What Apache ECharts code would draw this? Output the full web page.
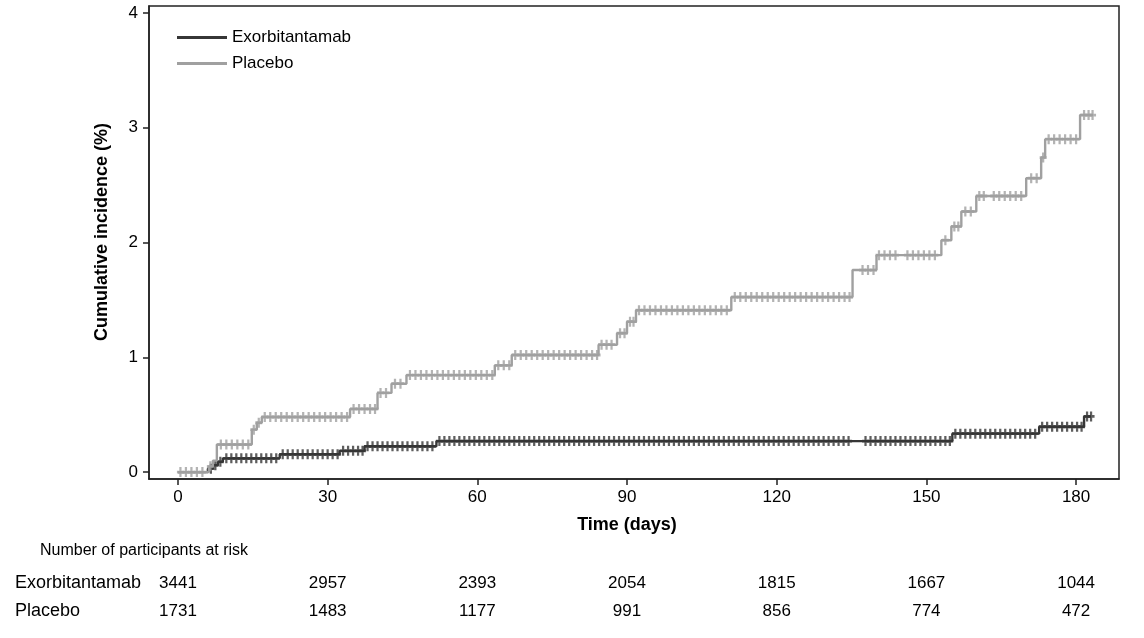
<!DOCTYPE html>
<html>
<head>
<meta charset="utf-8">
<script src="https://cdn.jsdelivr.net/npm/echarts@6/dist/echarts.min.js"></script>
<style>
html,body{margin:0;padding:0;background:#fff;}
#chart{width:1144px;height:638px;}
</style>
</head>
<body>
<div id="chart"></div>
<script>
// ---- Data ----
const xTicks = [0, 30, 60, 90, 120, 150, 180];
const yTicks = [0, 1, 2, 3, 4];

const exoName = 'Exorbitantamab';
const exoEventTimes  = [0, 6.0, 7.0, 8.0, 9.0, 20.4, 32.4, 37.4, 51.8, 155.2, 172.6, 181.6];
const exoEventValues = [0, 0.03, 0.06, 0.09, 0.12, 0.155, 0.185, 0.225, 0.27, 0.335, 0.395, 0.485];
const exoEndTime = 183.0;
const exoCensor = [6.6, 7.5, 8.5,
  9.7, 10.7, 11.7, 12.7, 13.7, 14.7, 15.7, 16.7, 17.7, 18.7, 19.7,
  21.0, 22.0, 23.0, 24.0, 25.0, 26.0, 27.0, 28.0, 29.0, 30.0, 31.0, 32.0,
  33.1, 34.1, 35.1, 36.1, 37.0,
  38.0, 39.0, 40.0, 41.0, 42.0, 43.0, 44.0, 45.0, 46.0, 47.0, 48.0, 49.0, 50.0, 51.0,
  52.4, 53.4, 54.4, 55.4, 56.4, 57.4, 58.4, 59.4, 60.4, 61.4, 62.4, 63.4, 64.4, 65.4, 66.4,
  67.4, 68.4, 69.4, 70.4, 71.4, 72.4, 73.4, 74.4, 75.4, 76.4, 77.4, 78.4, 79.4, 80.4, 81.4,
  82.4, 83.4, 84.4, 85.4, 86.4, 87.4, 88.4, 89.4, 90.4, 91.4, 92.4, 93.4, 94.4, 95.4, 96.4,
  97.4, 98.4, 99.4, 100.4, 101.4, 102.4, 103.4, 104.4, 105.4, 106.4, 107.4, 108.4, 109.4, 110.4,
  111.4, 112.4, 113.4, 114.4, 115.4, 116.4, 117.4, 118.4, 119.4, 120.4, 121.4, 122.4, 123.4,
  124.4, 125.4, 126.4, 127.4, 128.4, 129.4, 130.4, 131.4, 132.4, 133.4, 134.4,
  137.8, 138.8, 139.8, 140.8, 141.8, 142.8, 143.8, 144.8, 145.8, 146.8, 147.8, 148.8, 149.8,
  150.8, 151.8, 152.8, 153.8, 154.7,
  155.8, 156.8, 157.8, 158.8, 159.8, 160.8, 161.8, 162.8, 163.8, 164.8, 165.8, 166.8, 167.8,
  168.8, 169.8, 170.8, 171.8,
  173.2, 174.2, 175.2, 176.2, 177.2, 178.2, 179.2, 180.2, 181.1,
  182.2, 183.0];

const plaName = 'Placebo';
const plaEventTimes  = [0, 6.2, 7.0, 7.8, 14.8, 15.8, 16.8, 34.5, 40.0, 42.8, 45.8, 63.5, 66.9, 84.3, 88.0, 90.0, 91.8, 110.9, 135.2, 140.0, 153.0, 155.0, 157.0, 160.0, 170.0, 173.0, 173.8, 180.8];
const plaEventValues = [0, 0.05, 0.10, 0.24, 0.37, 0.43, 0.48, 0.55, 0.69, 0.77, 0.845, 0.93, 1.02, 1.11, 1.21, 1.31, 1.41, 1.525, 1.76, 1.89, 2.02, 2.14, 2.27, 2.405, 2.56, 2.74, 2.90, 3.11];
const plaEndTime = 183.4;
const plaCensor = [0.5, 1.6, 2.7, 3.8, 4.9,
  6.5,
  8.6, 9.7, 10.8, 11.9, 13.0, 14.1,
  15.2, 16.2,
  17.4, 18.5, 19.6, 20.7, 21.8, 22.9, 24.0, 25.1, 26.2, 27.3, 28.4, 29.5, 30.6, 31.7, 32.8, 33.9,
  35.2, 36.3, 37.4, 38.5, 39.5,
  40.6, 41.7, 43.5, 44.6,
  46.5, 47.6, 48.7, 49.8, 50.9, 52.0, 53.1, 54.2, 55.3, 56.4, 57.5, 58.6, 59.7, 60.8, 61.9, 63.0,
  64.2, 65.3, 66.4,
  67.6, 68.7, 69.8, 70.9, 72.0, 73.1, 74.2, 75.3, 76.4, 77.5, 78.6, 79.7, 80.8, 81.9, 83.0, 84.0,
  84.9, 85.9, 86.9, 88.6, 89.5, 90.6, 91.3,
  92.4, 93.5, 94.6, 95.7, 96.8, 97.9, 99.0, 100.1, 101.2, 102.3, 103.4, 104.5, 105.6, 106.7, 107.8, 108.9, 110.0,
  111.6, 112.7, 113.8, 114.9, 116.0, 117.1, 118.2, 119.3, 120.4, 121.5, 122.6, 123.7, 124.8, 125.9,
  127.0, 128.1, 129.2, 130.3, 131.4, 132.5, 133.6, 134.6,
  137.2, 138.3, 139.4,
  140.5, 141.6, 142.7, 143.8, 146.2, 147.3, 148.4, 149.5, 150.6, 151.7,
  153.8, 155.6, 156.4, 157.8, 158.9,
  160.6, 161.5, 163.5, 164.6, 165.7, 166.8, 167.9, 169.0,
  171.0, 172.1, 173.4,
  174.5, 175.6, 176.7, 177.8, 178.9, 180.0,
  181.6, 182.5, 183.3];

const riskTitle = 'Number of participants at risk';
const riskTimes = [0, 30, 60, 90, 120, 150, 180];
const exoRisk = [3441, 2957, 2393, 2054, 1815, 1667, 1044];
const plaRisk = [1731, 1483, 1177, 991, 856, 774, 472];

const xTitle = 'Time (days)';
const yTitle = 'Cumulative incidence (%)';

// ---- Build series data ----
function stepData(times, values, endTime) {
  const d = times.map((t, i) => [t, values[i]]);
  d.push([endTime, values[values.length - 1]]);
  return d;
}
function valueAt(times, values, t) {
  let v = values[0];
  for (let i = 0; i < times.length; i++) { if (times[i] <= t) v = values[i]; }
  return v;
}
function censorData(times, values, cens) {
  return cens.map(t => [t, valueAt(times, values, t)]);
}

const FONT = "'Liberation Sans Narrow', 'Liberation Sans', Arial, sans-serif";
const exoColor = '#363636';
const plaColor = '#a0a0a0';
const plus = 'path://M3.4,0H6.6V3.6H10V6.4H6.6V10H3.4V6.4H0V3.6H3.4Z';

const chart = echarts.init(document.getElementById('chart'));
const option = {
  animation: false,
  backgroundColor: '#fff',
  textStyle: { fontFamily: FONT },
  grid: { left: 149, right: 25, top: 6, bottom: 159, show: true, borderColor: '#222', borderWidth: 1.5 },
  legend: {
    data: [exoName, plaName],
    orient: 'vertical', left: 172, top: 24,
    itemWidth: 50, itemHeight: 3, itemGap: 9,
    textStyle: { fontSize: 17, color: '#000', fontFamily: FONT },
    icon: 'rect'
  },
  xAxis: {
    type: 'value', min: -5.8, max: 188.6,
    splitLine: { show: false },
    axisLine: { lineStyle: { color: '#222', width: 1.5 }, onZero: false },
    axisTick: { show: true, length: 6, lineStyle: { color: '#222', width: 1.5 }, customValues: xTicks },
    axisLabel: { fontSize: 17, color: '#000', margin: 10, fontFamily: FONT, customValues: xTicks }
  },
  yAxis: {
    type: 'value', min: -0.06, max: 4.06,
    splitLine: { show: false },
    axisLine: { show: true, lineStyle: { color: '#222', width: 1.5 }, onZero: false },
    axisTick: { show: true, length: 6, lineStyle: { color: '#222', width: 1.5 }, customValues: yTicks },
    axisLabel: { fontSize: 17, color: '#000', margin: 11, fontFamily: FONT, customValues: yTicks }
  },
  series: [
    { name: exoName, type: 'line', step: 'end', symbol: 'none', z: 2,
      data: stepData(exoEventTimes, exoEventValues, exoEndTime),
      itemStyle: { color: exoColor }, lineStyle: { color: exoColor, width: 2.4 } },
    { name: exoName + ' censored', type: 'scatter', symbol: plus, symbolSize: [7, 10], z: 3,
      data: censorData(exoEventTimes, exoEventValues, exoCensor),
      itemStyle: { color: exoColor } },
    { name: plaName, type: 'line', step: 'end', symbol: 'none', z: 4,
      data: stepData(plaEventTimes, plaEventValues, plaEndTime),
      itemStyle: { color: plaColor }, lineStyle: { color: plaColor, width: 2.4 } },
    { name: plaName + ' censored', type: 'scatter', symbol: plus, symbolSize: [7, 10], z: 5,
      data: censorData(plaEventTimes, plaEventValues, plaCensor),
      itemStyle: { color: plaColor } }
  ]
};
chart.setOption(option);

// ---- Titles and at-risk table (x positions from the axis scale) ----
const graphics = [
  { type: 'text', position: [627, 525], style: { text: xTitle, font: "bold 18px " + FONT, fill: '#000', textAlign: 'center', textVerticalAlign: 'middle' } },
  { type: 'text', rotation: Math.PI / 2, position: [102, 232], style: { text: yTitle, font: "bold 18px " + FONT, fill: '#000', textAlign: 'center', textVerticalAlign: 'middle' } },
  { type: 'text', position: [40, 551], style: { text: riskTitle, font: "16px " + FONT, fill: '#000', textVerticalAlign: 'middle' } },
  { type: 'text', position: [15, 583], style: { text: exoName, font: "18px " + FONT, fill: '#000', textVerticalAlign: 'middle' } },
  { type: 'text', position: [15, 611], style: { text: plaName, font: "18px " + FONT, fill: '#000', textVerticalAlign: 'middle' } }
];
riskTimes.forEach((t, i) => {
  const px = chart.convertToPixel({ xAxisIndex: 0 }, t);
  graphics.push({ type: 'text', position: [px, 583], style: { text: String(exoRisk[i]), font: "17px " + FONT, fill: '#000', textAlign: 'center', textVerticalAlign: 'middle' } });
  graphics.push({ type: 'text', position: [px, 611], style: { text: String(plaRisk[i]), font: "17px " + FONT, fill: '#000', textAlign: 'center', textVerticalAlign: 'middle' } });
});
chart.setOption({ graphic: graphics });
</script>
</body>
</html>
